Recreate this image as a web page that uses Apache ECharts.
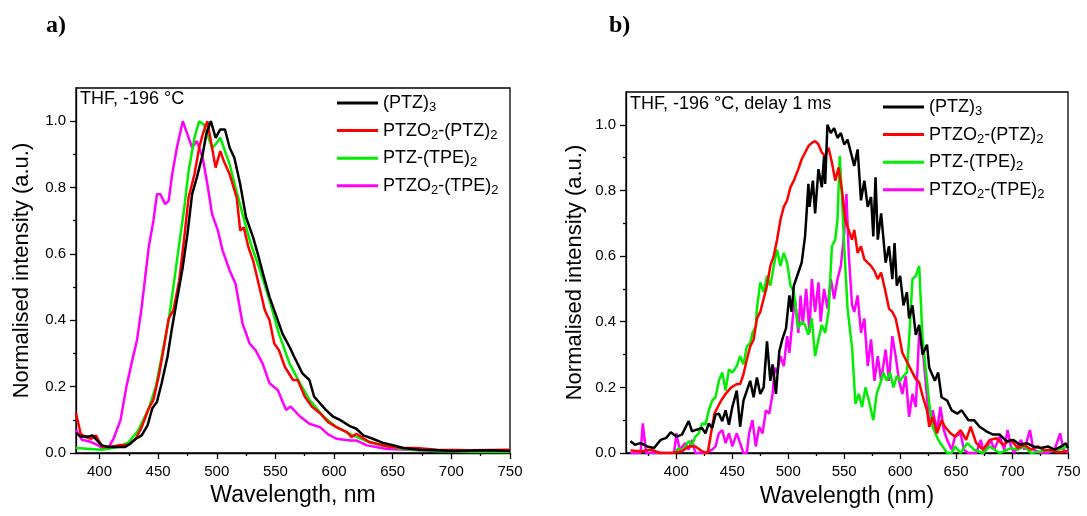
<!DOCTYPE html>
<html>
<head>
<meta charset="utf-8">
<script src="https://cdn.jsdelivr.net/npm/echarts@6/dist/echarts.min.js"></script>
<style>
html,body{margin:0;padding:0;background:#fff;}
#main{width:1087px;height:516px;}
</style>
</head>
<body>
<div id="main"></div>
<script>
// ---------- DATA ----------
const seriesKeys = ['PTZ3', 'PTZO2PTZ2', 'PTZTPE2', 'PTZO2TPE2'];
const legendLabels = ['{n|(PTZ)}{s|3}', '{n|PTZO}{s|2}{n|-(PTZ)}{s|2}', '{n|PTZ-(TPE)}{s|2}', '{n|PTZO}{s|2}{n|-(TPE)}{s|2}'];
const xTicksA = [400, 450, 500, 550, 600, 650, 700, 750];
const xMinorA = [425, 475, 525, 575, 625, 675, 725];
const xTicksB = [400, 450, 500, 550, 600, 650, 700, 750];
const xMinorB = [375, 425, 475, 525, 575, 625, 675, 725];
const yTicks = [0, 0.2, 0.4, 0.6, 0.8, 1.0];
const yMinor = [0.1, 0.3, 0.5, 0.7, 0.9];

// Panel a) steady-state emission
const aBlackX = [380,384,391,394,398,402,408,413,422,426,431,436,441,445,449,453,458,462,466,471,475,479,483,488,491,495,499,503,507,511,515,520,525,531,535,541,545,551,556,562,566,573,579,583,588,593,599,605,614,619,625,633,642,651,659,673,688,702,731,750];
const aBlackY = [0.06,0.05,0.05,0.053,0.038,0.023,0.018,0.018,0.018,0.028,0.043,0.053,0.083,0.134,0.154,0.21,0.29,0.38,0.46,0.56,0.66,0.78,0.83,0.90,0.96,1.0,0.95,0.975,0.975,0.92,0.89,0.81,0.71,0.65,0.60,0.52,0.47,0.41,0.36,0.32,0.29,0.24,0.22,0.17,0.15,0.13,0.11,0.10,0.08,0.073,0.053,0.043,0.03,0.023,0.015,0.01,0.008,0.006,0.008,0.006];
const aRedX = [380,384,388,393,397,400,403,408,416,425,431,436,442,446,451,455,459,463,468,472,476,481,485,488,492,496,499,503,506,511,517,520,523,527,531,535,541,545,549,553,558,565,569,575,581,588,595,602,611,615,619,630,645,659,670,688,716,750];
const aRedY = [0.12,0.058,0.048,0.043,0.053,0.033,0.018,0.018,0.023,0.025,0.043,0.078,0.134,0.16,0.24,0.32,0.405,0.43,0.52,0.64,0.77,0.84,0.92,0.96,1.0,0.92,0.86,0.91,0.88,0.84,0.77,0.67,0.68,0.62,0.58,0.52,0.43,0.40,0.33,0.31,0.26,0.22,0.22,0.17,0.14,0.12,0.093,0.078,0.063,0.048,0.058,0.033,0.02,0.015,0.015,0.01,0.008,0.01];
const aGreenX = [380,402,416,425,433,442,448,453,459,463,468,472,476,481,485,489,493,496,499,503,506,511,516,522,529,537,545,553,562,571,579,591,602,616,630,645,659,688,716,750];
const aGreenY = [0.015,0.01,0.018,0.033,0.068,0.134,0.2,0.29,0.40,0.50,0.63,0.73,0.85,0.95,1.0,0.99,0.95,0.92,0.93,0.95,0.92,0.87,0.80,0.72,0.63,0.55,0.46,0.36,0.27,0.21,0.16,0.11,0.078,0.053,0.033,0.02,0.012,0.006,0.004,0.003];
const aMagX = [380,385,393,399,403,408,412,418,423,428,432,436,442,446,449,452,456,459,462,466,471,475,479,483,488,492,496,501,505,511,516,522,528,533,539,545,552,559,563,571,579,588,595,602,614,619,628,645,673,716,750];
const aMagY = [0.07,0.04,0.033,0.023,0.013,0.018,0.043,0.1,0.2,0.28,0.34,0.44,0.62,0.70,0.78,0.78,0.75,0.76,0.84,0.92,1.0,0.96,0.92,0.94,0.89,0.81,0.72,0.67,0.61,0.55,0.51,0.39,0.33,0.31,0.27,0.21,0.19,0.13,0.14,0.11,0.088,0.078,0.056,0.043,0.038,0.038,0.023,0.012,0.008,0.005,0.005];

// Panel b) delayed emission (1 ms)
const bBlackX = [359,363,368,374,380,386,391,395,400,405,411,414,418,423,426,429,432,435,438,441,444,447,450,454,457,460,463,466,469,472,475,478,481,484,486,489,492,495,498,501,503,505,509,512,515,516,518,519,522,524,527,530,532,533,535,538,541,544,547,550,553,556,559,562,565,568,571,574,576,578,580,583,587,590,593,595,597,600,603,606,608,611,614,617,620,624,626,631,634,637,642,646,651,655,661,666,671,677,683,689,695,701,707,713,719,726,732,738,744,748,750];
const bBlackY = [0.036,0.025,0.03,0.02,0.015,0.04,0.046,0.063,0.05,0.056,0.097,0.066,0.071,0.076,0.06,0.09,0.076,0.117,0.12,0.097,0.13,0.086,0.14,0.19,0.08,0.16,0.19,0.22,0.17,0.23,0.18,0.2,0.34,0.22,0.27,0.18,0.31,0.35,0.38,0.48,0.43,0.51,0.55,0.58,0.66,0.71,0.82,0.75,0.83,0.73,0.865,0.81,0.905,0.82,1.0,0.975,0.99,0.96,0.975,0.94,0.955,0.915,0.875,0.925,0.77,0.83,0.75,0.78,0.66,0.84,0.65,0.73,0.58,0.63,0.53,0.64,0.51,0.54,0.45,0.49,0.41,0.45,0.36,0.39,0.30,0.33,0.26,0.22,0.245,0.17,0.16,0.13,0.12,0.13,0.10,0.10,0.08,0.066,0.056,0.056,0.036,0.04,0.025,0.03,0.02,0.015,0.02,0.01,0.02,0.03,0.015];
const bRedX = [359,368,377,386,395,405,411,417,423,428,431,434,437,440,444,449,454,457,460,463,466,469,472,475,478,481,484,487,490,493,496,499,502,505,509,512,515,518,521,524,527,530,533,536,539,542,545,548,551,554,557,559,562,565,568,571,574,577,580,583,587,590,593,596,599,602,605,608,611,614,617,620,624,626,629,633,637,640,645,649,654,659,663,668,674,680,686,692,699,705,711,717,723,729,735,741,750];
const bRedY = [0.008,0.005,0.01,0,0,0.005,0.02,0.02,0.005,0,0.06,0.12,0.14,0.16,0.18,0.20,0.21,0.21,0.24,0.285,0.325,0.345,0.41,0.43,0.47,0.51,0.57,0.60,0.65,0.71,0.75,0.77,0.81,0.83,0.865,0.895,0.915,0.935,0.945,0.95,0.94,0.915,0.905,0.93,0.885,0.83,0.87,0.80,0.71,0.68,0.65,0.68,0.61,0.63,0.59,0.58,0.57,0.555,0.53,0.55,0.49,0.44,0.43,0.41,0.36,0.305,0.285,0.265,0.245,0.225,0.215,0.175,0.13,0.08,0.11,0.06,0.10,0.08,0.06,0.05,0.07,0.04,0.08,0.03,0.01,0.04,0.045,0.025,0.04,0.015,0.025,0.01,0.02,0.008,0.01,0.002,0.005];
const bGreenX = [398,402,405,408,411,414,417,420,423,426,429,432,435,438,441,444,447,450,454,457,460,463,466,468,471,472,475,478,481,484,487,490,493,496,499,502,505,509,512,515,518,521,524,527,530,533,536,539,542,544,546,548,550,553,556,557,560,563,566,569,572,576,579,582,585,588,591,594,597,600,603,606,608,611,614,617,620,624,626,629,634,638,642,646,649,654,660,666,674,680,689,699,705,711,717,726,735,741,750];
const bGreenY = [0,0.015,0.005,0.02,0.036,0.025,0.05,0.06,0.09,0.087,0.13,0.16,0.17,0.22,0.245,0.19,0.255,0.245,0.265,0.295,0.27,0.325,0.335,0.366,0.385,0.44,0.52,0.49,0.54,0.51,0.57,0.62,0.57,0.61,0.58,0.51,0.49,0.38,0.40,0.39,0.36,0.41,0.295,0.346,0.39,0.366,0.43,0.63,0.65,0.71,0.905,0.78,0.63,0.44,0.35,0.325,0.15,0.18,0.14,0.20,0.16,0.10,0.18,0.21,0.245,0.22,0.245,0.20,0.235,0.22,0.235,0.245,0.346,0.53,0.54,0.57,0.35,0.22,0.15,0.08,0.04,0.02,0,0,0.02,0,0.03,0.01,0,0.02,0,0.015,0.01,0.02,0,0.005,0.008,0.01,0.02];
const bMagX = [359,368,370,373,380,389,398,400,403,408,411,414,417,426,432,435,438,441,444,447,450,454,457,460,463,465,468,471,474,477,480,483,486,488,490,493,496,499,501,504,506,509,511,513,516,519,521,524,527,529,532,535,538,541,544,547,550,552,554,557,559,562,565,568,571,574,577,580,583,587,590,593,596,599,602,605,608,611,614,617,620,624,626,629,633,636,639,642,646,649,654,657,661,668,672,675,681,684,689,693,696,699,702,708,711,716,719,726,732,738,743,746,750];
const bMagY = [0,0,0.09,0,0,0,0,0.06,0.01,0.03,0.01,0.04,0,0,0.01,0.02,0.06,0.07,0.03,0.06,0.02,0.06,0.03,0,0,0.06,0.10,0.02,0.08,0.06,0.13,0.12,0.18,0.26,0.245,0.295,0.265,0.356,0.305,0.41,0.47,0.366,0.48,0.39,0.50,0.366,0.53,0.43,0.52,0.40,0.50,0.44,0.53,0.47,0.53,0.57,0.67,0.79,0.61,0.45,0.43,0.48,0.366,0.41,0.265,0.346,0.22,0.295,0.22,0.315,0.22,0.356,0.295,0.22,0.18,0.235,0.11,0.18,0.14,0.366,0.325,0.17,0.09,0.13,0.07,0.14,0.07,0.04,0.01,0.05,0.06,0.01,0,0,0.04,0,0.04,0.01,0.05,0.01,0.07,0.02,0,0.04,0.01,0.07,0.01,0,0,0.01,0.06,0.01,0];

// ---------- CHART ----------
const colors = ['#000000', '#ff0000', '#00ee00', '#ff00ff'];
const FONT = 'Liberation Sans, Arial, sans-serif';
function pairs(xs, ys) { return xs.map((x, i) => [x, ys[i]]); }
const dataA = [pairs(aBlackX, aBlackY), pairs(aRedX, aRedY), pairs(aGreenX, aGreenY), pairs(aMagX, aMagY)];
const dataB = [pairs(bBlackX, bBlackY), pairs(bRedX, bRedY), pairs(bGreenX, bGreenY), pairs(bMagX, bMagY)];

function mainX(grid, min, ticks, name, gap) {
  return {
    type: 'value', gridIndex: grid, min: min, max: 750, position: 'bottom',
    name: name, nameLocation: 'middle', nameGap: gap,
    nameTextStyle: { fontSize: 23, fontFamily: FONT, color: '#000' },
    axisLine: { show: true, lineStyle: { color: '#000', width: 1.3 } },
    axisTick: { show: true, length: 6, customValues: ticks, lineStyle: { color: '#000', width: 1.3 } },
    axisLabel: { customValues: ticks, fontSize: 15, fontFamily: FONT, color: '#000', margin: 11 },
    splitLine: { show: false }
  };
}
function minorX(grid, min, ticks) {
  return {
    type: 'value', gridIndex: grid, min: min, max: 750, position: 'bottom',
    axisLine: { show: false },
    axisTick: { show: true, length: 3, customValues: ticks, lineStyle: { color: '#000', width: 1.3 } },
    axisLabel: { show: false },
    splitLine: { show: false }
  };
}
function mainY(grid, gap) {
  return {
    type: 'value', gridIndex: grid, min: 0, max: 1.1, position: 'left',
    name: 'Normalised intensity (a.u.)', nameLocation: 'middle', nameGap: gap,
    nameTextStyle: { fontSize: 22, fontFamily: FONT, color: '#000' },
    axisLine: { show: true, lineStyle: { color: '#000', width: 1.3 } },
    axisTick: { show: true, length: 6, customValues: yTicks, lineStyle: { color: '#000', width: 1.3 } },
    axisLabel: { customValues: yTicks, formatter: v => v.toFixed(1), fontSize: 15, fontFamily: FONT, color: '#000', margin: 10 },
    splitLine: { show: false }
  };
}
function minorY(grid) {
  return {
    type: 'value', gridIndex: grid, min: 0, max: 1.1, position: 'left',
    axisLine: { show: false },
    axisTick: { show: true, length: 3, customValues: yMinor, lineStyle: { color: '#000', width: 1.3 } },
    axisLabel: { show: false },
    splitLine: { show: false }
  };
}
function legend(left, top) {
  return {
    orient: 'vertical', left: left, top: top,
    data: seriesKeys, icon: 'rect', itemWidth: 41, itemHeight: 3, itemGap: 7.6, itemTextGap: 5,
    formatter: name => legendLabels[seriesKeys.indexOf(name)],
    textStyle: {
      rich: {
        n: { fontSize: 18, fontFamily: FONT, color: '#000', lineHeight: 22 },
        s: { fontSize: 13, fontFamily: FONT, color: '#000', lineHeight: 10, verticalAlign: 'bottom' }
      }
    },
    selectedMode: false
  };
}
const series = [];
seriesKeys.forEach((k, i) => {
  series.push({ name: k, type: 'line', xAxisIndex: 0, yAxisIndex: 0, data: dataA[i], symbol: 'none', showSymbol: false,
    lineStyle: { color: colors[i], width: 2.5 }, itemStyle: { color: colors[i] }, z: 10 - i, animation: false });
});
seriesKeys.forEach((k, i) => {
  series.push({ name: k, type: 'line', xAxisIndex: 2, yAxisIndex: 2, data: dataB[i], symbol: 'none', showSymbol: false,
    lineStyle: { color: colors[i], width: 2.5 }, itemStyle: { color: colors[i] }, z: 10 - i, animation: false });
});

const chart = echarts.init(document.getElementById('main'), null, { renderer: 'canvas' });
chart.setOption({
  animation: false,
  backgroundColor: '#ffffff',
  grid: [
    { left: 76, top: 88, width: 434, height: 365, show: true, borderColor: '#000', borderWidth: 1.3, backgroundColor: 'transparent' },
    { left: 626, top: 92, width: 442, height: 361, show: true, borderColor: '#000', borderWidth: 1.3, backgroundColor: 'transparent' }
  ],
  xAxis: [
    mainX(0, 380, xTicksA, 'Wavelength, nm', 30),
    minorX(0, 380, xMinorA),
    mainX(1, 355, xTicksB, 'Wavelength (nm)', 32),
    minorX(1, 355, xMinorB)
  ],
  yAxis: [
    mainY(0, 43),
    minorY(0),
    mainY(1, 40),
    minorY(1)
  ],
  legend: [legend(332, 89), legend(878, 93)],
  graphic: [
    { type: 'text', left: 46, top: 14, style: { text: 'a)', font: 'bold 24px "Liberation Serif", "Times New Roman", serif', fill: '#000' } },
    { type: 'text', left: 609, top: 14, style: { text: 'b)', font: 'bold 24px "Liberation Serif", "Times New Roman", serif', fill: '#000' } },
    { type: 'text', left: 80, top: 90, style: { text: 'THF, -196 °C', font: '18px "Liberation Sans", Arial, sans-serif', fill: '#000' } },
    { type: 'text', left: 630, top: 95, style: { text: 'THF, -196 °C, delay 1 ms', font: '18px "Liberation Sans", Arial, sans-serif', fill: '#000' } }
  ],
  series: series
});
</script>
</body>
</html>
